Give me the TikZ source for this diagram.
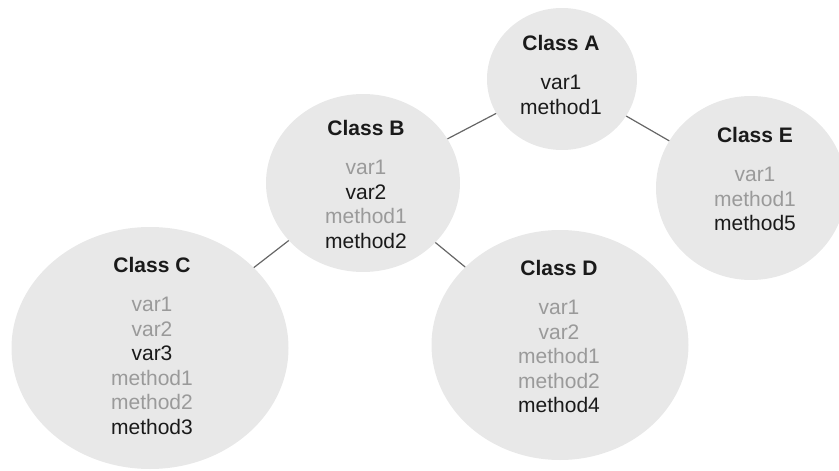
\documentclass[tikz,border=0pt]{standalone}
\usepackage{fontspec}
\setmainfont{Liberation Sans}
\usetikzlibrary{shapes.geometric}

\definecolor{bubblegray}{HTML}{E8E8E8}
\definecolor{inherited}{HTML}{9A9A9A}
\definecolor{own}{HTML}{1A1A1A}
\definecolor{linkgray}{HTML}{666666}
\newcommand{\inh}[1]{\textcolor{inherited}{#1}}

\begin{document}
\begin{tikzpicture}[x=1pt, y=-1pt,
  bubble/.style={ellipse, fill=bubblegray, inner sep=0pt},
  members/.style={anchor=north, align=center, inner sep=0pt, text=own,
    font=\fontsize{21}{24.5}\selectfont},
  link/.style={draw=linkgray, line width=1.2pt}]
  \useasboundingbox (0,0) rectangle (839,471);

  % the classes
  \node[bubble, minimum width=150, minimum height=142] (A) at (562,79) {};
  \node[bubble, minimum width=194, minimum height=178] (B) at (363,183) {};
  \node[bubble, minimum width=277, minimum height=242] (C) at (150,348) {};
  \node[bubble, minimum width=257, minimum height=230] (D) at (560,345) {};
  \node[bubble, minimum width=190, minimum height=184] (E) at (751,188) {};

  % members
  \node[members] (A-txt) at (561,35) {\textbf{Class A}\\[15pt] var1\\ method1};
  \node[members] (B-txt) at (366,120) {\textbf{Class B}\\[15pt] \inh{var1}\\ var2\\ \inh{method1}\\ method2};
  \node[members] (C-txt) at (152,257) {\textbf{Class C}\\[15pt] \inh{var1}\\ \inh{var2}\\ var3\\ \inh{method1}\\ \inh{method2}\\ method3};
  \node[members] (D-txt) at (559,260) {\textbf{Class D}\\[15pt] \inh{var1}\\ \inh{var2}\\ \inh{method1}\\ \inh{method2}\\ method4};
  \node[members] (E-txt) at (755,127) {\textbf{Class E}\\[15pt] \inh{var1}\\ \inh{method1}\\ method5};

  % inheritance
  \draw[link] (A) -- (B);
  \draw[link] (A) -- (E);
  \draw[link] (B) -- (C);
  \draw[link] (B) -- (D);
\end{tikzpicture}
\end{document}
